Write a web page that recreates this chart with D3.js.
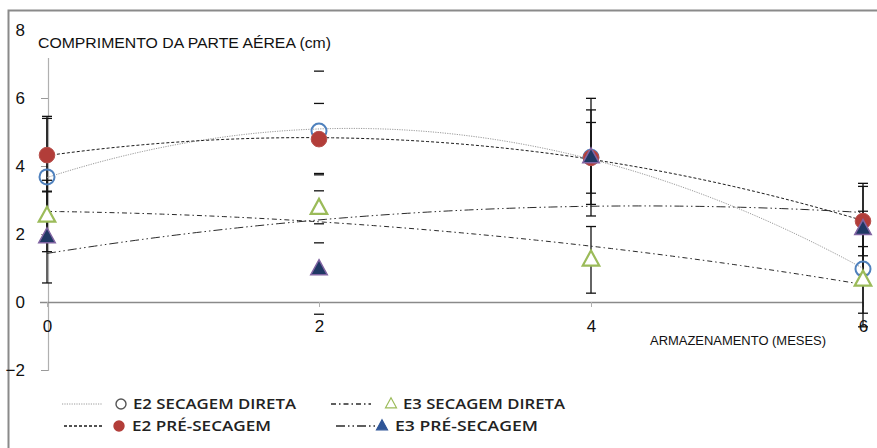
<!DOCTYPE html>
<html>
<head>
<meta charset="utf-8">
<script src="https://cdn.jsdelivr.net/npm/d3@7"></script>
<style>
  html, body { margin: 0; padding: 0; background: #fff; }
  svg { display: block; }
</style>
</head>
<body>
<svg id="chart" width="877" height="448"></svg>
<script>
// Storage time (months)
const months = [0, 2, 4, 6];

// Shoot length (cm) per treatment
const e2Direta = [3.68, 5.03, 4.26, 0.97];
const e2Pre    = [4.32, 4.79, 4.24, 2.38];
const e3Direta = [2.53, 2.76, 1.24, 0.65];
const e3Pre    = [1.91, 0.97, 4.26, 2.15];

// Error bar half-widths (cm)
const e2DiretaErr = [1.78, 1.76, 1.73, 1.70];
const e2PreErr    = [1.08, 1.05, 1.04, 1.02];
const e3DiretaErr = [1.05, 1.02, 0.98, 0.98];
const e3PreErr    = [1.35, 1.33, 1.39, 1.34];

// Month columns whose error bars show the vertical stem (the 2-month column shows caps only)
const stemDrawn = [true, false, true, true];

const yTicks = [-2, 0, 2, 4, 6, 8];
const xTicks = [0, 2, 4, 6];

const seriesNames = ["E2 SECAGEM DIRETA", "E2 PRÉ-SECAGEM", "E3 SECAGEM DIRETA", "E3 PRÉ-SECAGEM"];

const series = [
  { name: seriesNames[0], values: e2Direta, err: e2DiretaErr, shape: "circle", fill: "none", stroke: "#4f81bd", sw: 2,
    line: "#9a9a9a", dash: "1.2,1.2", lw: 1, legMarkStroke: "#555", legMarkFill: "none" },
  { name: seriesNames[1], values: e2Pre, err: e2PreErr, shape: "circle", fill: "#b23d39", stroke: "#b8504c", sw: 1,
    line: "#1a1a1a", dash: "3,2", lw: 1, legMarkStroke: "#b23d39", legMarkFill: "#b23d39" },
  { name: seriesNames[2], values: e3Direta, err: e3DiretaErr, shape: "triangle", fill: "#fff", stroke: "#9bbb59", sw: 2.2,
    line: "#2a2a2a", dash: "5,3,1.5,3", lw: 1, legMarkStroke: "#9bbb59", legMarkFill: "none" },
  { name: seriesNames[3], values: e3Pre, err: e3PreErr, shape: "triangle", fill: "#1f3864", stroke: "#8064a2", sw: 1.5,
    line: "#2a2a2a", dash: "9,3,1.5,3,1.5,3", lw: 1, legMarkStroke: "#2f5597", legMarkFill: "#2f5597" }
];

const svg = d3.select("#chart");

const x = d3.scaleLinear().domain([0, 6]).range([47, 863]);
const y = d3.scaleLinear().domain([-2, 8]).range([370, 30]);

// Outer frame
svg.append("rect")
  .attr("x", 8.5).attr("y", 10.5).attr("width", 900).attr("height", 460)
  .attr("fill", "#fff").attr("stroke", "#8a8a8a").attr("stroke-width", 2);

// Vertical axis
const yAxis = d3.axisLeft(y).tickValues(yTicks).tickSize(7).tickFormat(d3.format("d"));
const gy = svg.append("g").attr("transform", `translate(${x(0) + 1},0)`).call(yAxis);
gy.select(".domain").attr("stroke", "#b0b0b0").attr("stroke-width", 1.2);
gy.selectAll(".tick line").attr("stroke", "#9a9a9a");
gy.selectAll(".tick text")
  .attr("x", -23).attr("text-anchor", "end")
  .attr("font-family", "Liberation Sans, Arial, sans-serif").attr("font-size", 17).attr("fill", "#111");

// Horizontal axis along y = 0
const xAxis = d3.axisBottom(x).tickValues(xTicks).tickSize(5).tickSizeOuter(0).tickFormat(d3.format("d"));
const gx = svg.append("g").attr("transform", `translate(0,${y(0)})`).call(xAxis);
gx.select(".domain").attr("stroke", "#8a8a8a").attr("stroke-width", 1.3)
  .attr("d", `M${x(0) - 7},0.5H${x(6)}`);
gx.selectAll(".tick line").attr("stroke", "#b0b0b0");
gx.selectAll(".tick text")
  .attr("y", 18).attr("dy", "0.71em")
  .attr("font-family", "Liberation Sans, Arial, sans-serif").attr("font-size", 17).attr("fill", "#111");

// Error bars
const errG = svg.append("g");
series.forEach(s => {
  months.forEach((m, i) => {
    const cx = x(m);
    const hi = y(s.values[i] + s.err[i]);
    const lo = y(s.values[i] - s.err[i]);
    if (stemDrawn[i]) {
      errG.append("line").attr("x1", cx).attr("x2", cx).attr("y1", hi).attr("y2", lo)
        .attr("stroke", "#111").attr("stroke-width", 1.3);
    }
    [hi, lo].forEach(yy => {
      errG.append("line").attr("x1", cx - 5).attr("x2", cx + 5).attr("y1", yy).attr("y2", yy)
        .attr("stroke", "#111").attr("stroke-width", 1.3);
    });
  });
});

// Second-order least-squares trend for each series
function quadFit(xs, ys) {
  const n = xs.length;
  let s0 = n, s1 = 0, s2 = 0, s3 = 0, s4 = 0, t0 = 0, t1 = 0, t2 = 0;
  xs.forEach((xv, i) => {
    const yv = ys[i];
    s1 += xv; s2 += xv * xv; s3 += xv ** 3; s4 += xv ** 4;
    t0 += yv; t1 += xv * yv; t2 += xv * xv * yv;
  });
  // Solve [[s0,s1,s2],[s1,s2,s3],[s2,s3,s4]] * [a,b,c] = [t0,t1,t2]
  const M = [[s0, s1, s2, t0], [s1, s2, s3, t1], [s2, s3, s4, t2]];
  for (let c = 0; c < 3; c++) {
    for (let r = c + 1; r < 3; r++) {
      const f = M[r][c] / M[c][c];
      for (let k = c; k < 4; k++) M[r][k] -= f * M[c][k];
    }
  }
  const coef = [0, 0, 0];
  for (let r = 2; r >= 0; r--) {
    let v = M[r][3];
    for (let k = r + 1; k < 3; k++) v -= M[r][k] * coef[k];
    coef[r] = v / M[r][r];
  }
  return t => coef[0] + coef[1] * t + coef[2] * t * t;
}

const trendG = svg.append("g");
const lineGen = d3.line().x(d => x(d[0])).y(d => y(d[1]));
series.forEach(s => {
  const f = quadFit(months, s.values);
  const pts = d3.range(0, 6.0001, 0.05).map(t => [t, f(t)]);
  trendG.append("path").attr("d", lineGen(pts))
    .attr("fill", "none").attr("stroke", s.line).attr("stroke-width", s.lw)
    .attr("stroke-dasharray", s.dash);
});

// Markers
const triPath = (size) => {
  const h = size, w = size * 1.1;
  return `M0,${-h * 0.62}L${w / 2},${h * 0.38}L${-w / 2},${h * 0.38}Z`;
};
const markG = svg.append("g");
series.forEach(s => {
  months.forEach((m, i) => {
    const cx = x(m), cy = y(s.values[i]);
    if (s.shape === "circle") {
      markG.append("circle").attr("cx", cx).attr("cy", cy).attr("r", s.fill === "none" ? 7.5 : 7.8)
        .attr("fill", s.fill).attr("stroke", s.stroke).attr("stroke-width", s.sw);
    } else {
      markG.append("path").attr("d", triPath(15)).attr("transform", `translate(${cx},${cy})`)
        .attr("fill", s.fill).attr("stroke", s.stroke).attr("stroke-width", s.sw)
        .attr("stroke-linejoin", "miter");
    }
  });
});

// Chart title
svg.append("rect").attr("x", 34).attr("y", 28).attr("width", 302).attr("height", 30).attr("fill", "#fff");
svg.append("text").attr("x", 38).attr("y", 48)
  .attr("font-family", "Liberation Sans, Arial, sans-serif").attr("font-size", 14.5).attr("fill", "#111")
  .attr("textLength", 293).attr("lengthAdjust", "spacingAndGlyphs")
  .text("COMPRIMENTO DA PARTE AÉREA (cm)");

// Horizontal axis title
svg.append("text").attr("x", 650).attr("y", 345)
  .attr("font-family", "Liberation Sans, Arial, sans-serif").attr("font-size", 12).attr("fill", "#111")
  .attr("textLength", 176).attr("lengthAdjust", "spacingAndGlyphs")
  .text("ARMAZENAMENTO (MESES)");

// Legend
const legend = [
  { s: series[0], lx: 62, mx: 121, tx: 133, ty: 404, tw: 163 },
  { s: series[2], lx: 331, mx: 391, tx: 403, ty: 404, tw: 162 },
  { s: series[1], lx: 64, mx: 119, tx: 132, ty: 426, tw: 139 },
  { s: series[3], lx: 336, mx: 382, tx: 395, ty: 426, tw: 143 }
];
const legG = svg.append("g");
legend.forEach(l => {
  legG.append("line").attr("x1", l.lx).attr("x2", l.lx + 40).attr("y1", l.ty).attr("y2", l.ty)
    .attr("stroke", l.s.line).attr("stroke-width", l.s === series[0] ? 1 : 1.3)
    .attr("stroke-dasharray", l.s.dash);
  if (l.s.shape === "circle") {
    legG.append("circle").attr("cx", l.mx).attr("cy", l.ty).attr("r", 5)
      .attr("fill", l.s.legMarkFill).attr("stroke", l.s.legMarkStroke).attr("stroke-width", 1.4);
  } else {
    legG.append("path").attr("d", triPath(10)).attr("transform", `translate(${l.mx},${l.ty})`)
      .attr("fill", l.s.legMarkFill).attr("stroke", l.s.legMarkStroke).attr("stroke-width", 1.2);
  }
  legG.append("text").attr("x", l.tx).attr("y", l.ty).attr("dy", "0.36em")
    .attr("font-family", "Open Sans, sans-serif").attr("font-weight", 600).attr("font-size", 13.5)
    .attr("fill", "#222")
    .attr("textLength", l.tw).attr("lengthAdjust", "spacingAndGlyphs")
    .text(l.s.name);
});
</script>
</body>
</html>
